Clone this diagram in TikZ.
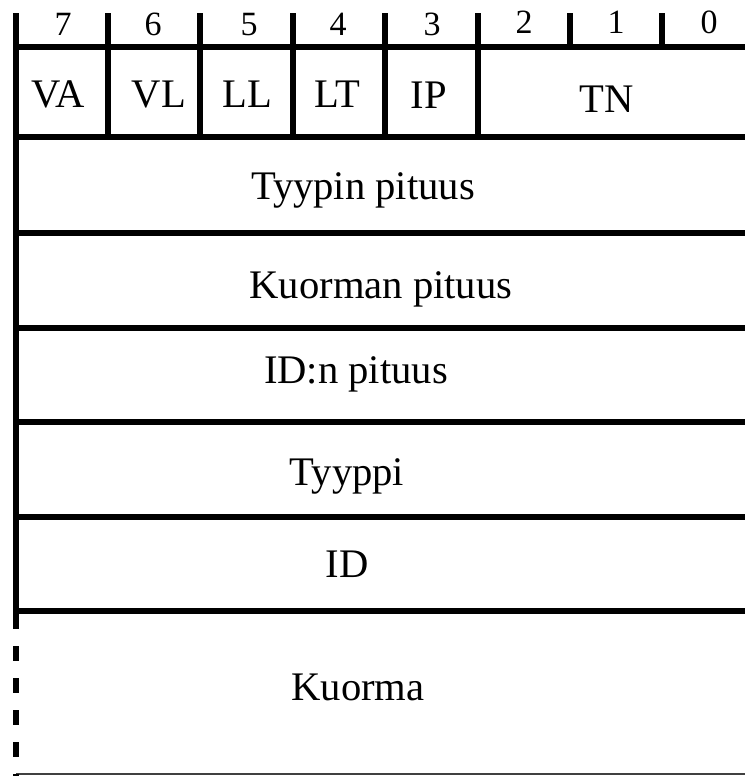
\documentclass[tikz,border=0pt]{standalone}
\usepackage{fontspec}
\setmainfont{Liberation Serif}
\begin{document}
\begin{tikzpicture}[x=0.5pt,y=-0.5pt,
  rule/.style={line width=2.7pt,black},
  thinrule/.style={line width=1pt,black!75},
  field/.style={anchor=base,inner sep=0pt,font=\fontsize{20.3pt}{24pt}\selectfont},
  bitnum/.style={anchor=base,inner sep=0pt,font=\fontsize{17pt}{20pt}\selectfont}]
\useasboundingbox (0,0) rectangle (744,776);
% bit ticks above the header row
\foreach \x in {108,200,293,385,478,570,662}
  \draw[rule] (\x,13) -- (\x,47);
% separators between the flag fields
\foreach \x in {108,200,293,385,478}
  \draw[rule] (\x,47) -- (\x,137);
% horizontal rules
\foreach \y in {47,137,233,328,422,517,611}
  \draw[rule] (16,\y) -- (760,\y);
\draw[thinrule] (16,773.5) -- (760,773.5);
% left edge: solid, then dashed beside the payload
\draw[rule] (16,13) -- (16,629);
\draw[rule,dash pattern=on 7.5pt off 8.5pt,dash phase=7.5pt] (16,629) -- (16,776);
% bit numbers
\node[bitnum] (b7) at (63,35) {7};
\node[bitnum] (b6) at (153,35) {6};
\node[bitnum] (b5) at (249,35) {5};
\node[bitnum] (b4) at (338,35) {4};
\node[bitnum] (b3) at (432,35) {3};
\node[bitnum] (b2) at (524,33) {2};
\node[bitnum] (b1) at (616,33) {1};
\node[bitnum] (b0) at (709,33) {0};
% flag fields
\node[field] (va) at (58,107) {VA};
\node[field] (vl) at (159,107) {VL};
\node[field] (ll) at (247,107) {LL};
\node[field] (lt) at (337,107) {LT};
\node[field] (ip) at (429,108) {IP};
\node[field] (tn) at (607,112) {TN};
% header rows and payload
\node[field] (tpit) at (363,199) {Tyypin pituus};
\node[field] (kpit) at (381,298) {Kuorman pituus};
\node[field] (idpit) at (356,383) {ID:n pituus};
\node[field] (tyyppi) at (347,485) {Tyyppi};
\node[field] (id) at (347,577) {ID};
\node[field] (kuorma) at (358,700) {Kuorma};
\end{tikzpicture}
\end{document}
